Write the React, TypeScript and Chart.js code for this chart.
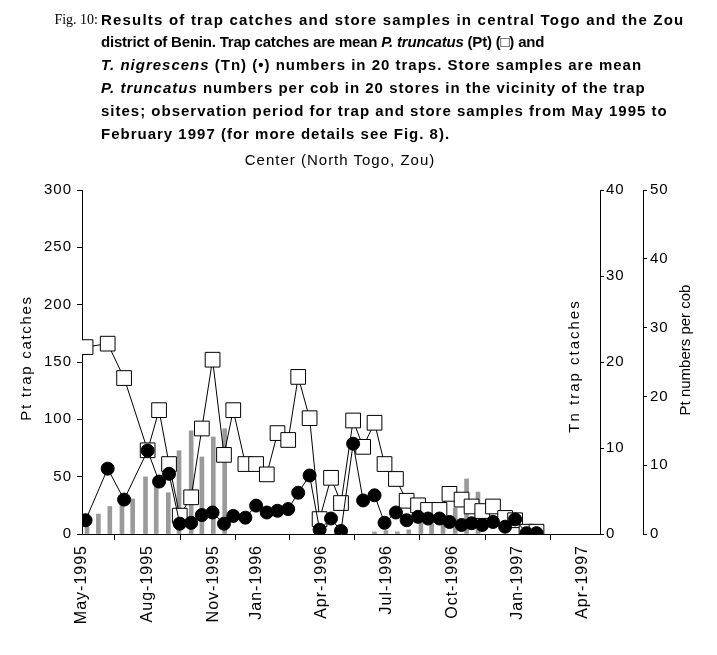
import React, { useEffect, useRef } from 'react';
import { Chart, registerables } from 'chart.js';

Chart.register(...registerables);

// Trap sampling dates (mean of 20 traps)
const trapDates = [
  '1995-05-06', '1995-06-06', '1995-06-29', '1995-08-01', '1995-08-17', '1995-08-31',
  '1995-09-15', '1995-10-01', '1995-10-16', '1995-10-31', '1995-11-16', '1995-11-29',
  '1995-12-16', '1995-12-31', '1996-01-15', '1996-01-30', '1996-02-14', '1996-02-28',
  '1996-03-15', '1996-03-29', '1996-04-14', '1996-04-28', '1996-05-15', '1996-05-29',
  '1996-06-14', '1996-06-28', '1996-07-14', '1996-07-29', '1996-08-14', '1996-08-28',
  '1996-09-13', '1996-09-27', '1996-10-14', '1996-10-28', '1996-11-12', '1996-11-27',
  '1996-12-14', '1996-12-28', '1997-01-13', '1997-01-27',
];

// Pt trap catches (left axis)
const ptTrapCatches = [
  163, 166, 136, 73, 108, 61, 16, 32, 92, 152, 69, 108,
  61, 61, 52, 88, 82, 137, 101, 13, 49, 27, 99, 76,
  97, 61, 48, 29, 25, 21, 21, 35, 30, 24, 20, 24,
  14, 12, 2, 2,
];

// Tn trap catches (first right axis)
const tnTrapCatches = [
  1.6, 7.6, 4.0, 9.7, 6.1, 7.0, 1.2, 1.3, 2.2, 2.5, 1.2, 2.1,
  1.9, 3.3, 2.5, 2.7, 2.9, 4.8, 6.8, 0.5, 1.8, 0.35, 10.5, 3.9,
  4.5, 1.3, 2.5, 1.6, 2.0, 1.8, 1.8, 1.4, 1.05, 1.25, 1.05, 1.4,
  0.85, 1.7, 0.1, 0.1,
];

// Store sampling dates (20 stores)
const storeDates = [
  '1995-05-08', '1995-05-24', '1995-06-09', '1995-06-26', '1995-07-11', '1995-07-29',
  '1995-08-13', '1995-08-30', '1995-09-14', '1995-10-01', '1995-10-16', '1995-11-01',
  '1995-11-17', '1996-06-14', '1996-06-30', '1996-07-16', '1996-08-01', '1996-08-18',
  '1996-09-02', '1996-09-18', '1996-10-05', '1996-10-21', '1996-11-06',
];

// Pt numbers per cob (second right axis)
const ptPerCob = [
  1.06, 2.9, 4.0, 4.4, 5.1, 8.3, 7.0, 6.0, 12.1, 15.0, 11.2, 14.1,
  15.3, 0.3, 0.5, 0.3, 0.6, 1.6, 1.5, 1.5, 3.8, 8.0, 6.1,
];

const xTickDates = [
  '1995-05-01', '1995-08-01', '1995-11-01', '1996-01-01', '1996-04-01',
  '1996-07-01', '1996-10-01', '1997-01-01', '1997-04-01',
];
const xTickLabels = [
  'May-1995', 'Aug-1995', 'Nov-1995', 'Jan-1996', 'Apr-1996',
  'Jul-1996', 'Oct-1996', 'Jan-1997', 'Apr-1997',
];
const xAxisEnd = '1997-04-26';

const ptTicks = [0, 50, 100, 150, 200, 250, 300];
const tnTicks = [0, 10, 20, 30, 40];
const cobTicks = [0, 10, 20, 30, 40, 50];

const ORIGIN = Date.UTC(1995, 4, 1);
const dayOf = (s: string) => {
  const [y, m, d] = s.split('-').map(Number);
  return Math.round((Date.UTC(y, m - 1, d) - ORIGIN) / 86400000);
};

const FONT = '"Liberation Sans", Arial, Helvetica, sans-serif';
const tickFont = { family: FONT, size: 15 };

const spacingPlugin = {
  id: 'letterSpacing',
  beforeLayout(c: any) { c.ctx.letterSpacing = '1px'; },
  beforeDraw(c: any) { c.ctx.letterSpacing = '1px'; },
};

const titlePlugin = {
  id: 'axisTitles',
  afterDraw(c: any) {
    const ctx = c.ctx;
    const area = c.chartArea;
    const mid = (area.top + area.bottom) / 2;
    const titles: [string, number, number, string][] = [
      ['Pt trap catches', 27, mid - 4, '1.7px'],
      ['Tn trap ctaches', area.right - 25, mid + 4, '2px'],
      ['Pt numbers per cob', 686, mid - 12, '0px'],
    ];
    ctx.save();
    ctx.font = `15px ${FONT}`;
    ctx.fillStyle = '#000';
    ctx.textAlign = 'center';
    ctx.textBaseline = 'middle';
    for (const [t, x, y, ls] of titles) {
      ctx.save();
      ctx.letterSpacing = ls;
      ctx.translate(x, y);
      ctx.rotate(-Math.PI / 2);
      ctx.fillText(t, 0, 0);
      ctx.restore();
    }
    ctx.restore();
  },
};

export default function App() {
  const ref = useRef<HTMLCanvasElement | null>(null);

  useEffect(() => {
    if (!ref.current) return;
    const trapDays = trapDates.map(dayOf);
    const storeDays = storeDates.map(dayOf);
    const tickDays = xTickDates.map(dayOf);

    const axisCommon = {
      grid: { drawOnChartArea: false, drawTicks: true, color: '#000', lineWidth: 1 },
      border: { display: true, color: '#000', width: 1 },
    };

    const chart = new Chart(ref.current, {
      type: 'line',
      data: {
        datasets: [
          {
            type: 'line',
            label: 'Tn',
            data: trapDays.map((x, i) => ({ x, y: tnTrapCatches[i] })),
            yAxisID: 'tn',
            borderColor: '#000',
            borderWidth: 1,
            tension: 0,
            fill: false,
            pointStyle: 'circle',
            pointRadius: 6.5,
            pointBackgroundColor: '#000',
            pointBorderColor: '#000',
            pointBorderWidth: 1,
            order: 0,
          },
          {
            type: 'line',
            label: 'Pt',
            data: trapDays.map((x, i) => ({ x, y: ptTrapCatches[i] })),
            yAxisID: 'pt',
            borderColor: '#000',
            borderWidth: 1,
            tension: 0,
            fill: false,
            pointStyle: 'rect',
            pointRadius: 10.4,
            pointBackgroundColor: '#fff',
            pointBorderColor: '#000',
            pointBorderWidth: 1,
            order: 1,
          },
          {
            type: 'bar',
            label: 'Pt per cob',
            data: storeDays.map((x, i) => ({ x, y: ptPerCob[i] })),
            yAxisID: 'cob',
            backgroundColor: '#9a9a9a',
            borderWidth: 0,
            barThickness: 4,
            order: 2,
          },
        ] as any,
      },
      options: {
        animation: false,
        responsive: false,
        maintainAspectRatio: false,
        devicePixelRatio: 1,
        layout: { padding: { top: 190, left: 0, right: 0, bottom: 0 } },
        plugins: { legend: { display: false }, tooltip: { enabled: false }, title: { display: false } },
        scales: {
          x: {
            type: 'linear',
            position: 'bottom',
            min: 0,
            max: dayOf(xAxisEnd),
            offset: false,
            afterBuildTicks: (s: any) => { s.ticks = tickDays.map((v) => ({ value: v })); },
            afterFit: (s: any) => { s.height = 121; },
            ticks: {
              autoSkip: false,
              minRotation: 90,
              maxRotation: 90,
              padding: 5,
              color: '#000',
              font: { family: FONT, size: 16 },
              callback: (_v: any, i: number) => xTickLabels[i],
            },
            grid: { ...axisCommon.grid, tickLength: 6 },
            border: axisCommon.border,
          },
          pt: {
            type: 'linear',
            position: 'left',
            min: 0,
            max: 300,
            afterBuildTicks: (s: any) => { s.ticks = ptTicks.map((v) => ({ value: v })); },
            afterFit: (s: any) => { s.width = 82; },
            ticks: { padding: 5, color: '#000', font: tickFont },
            grid: { ...axisCommon.grid, tickLength: 5 },
            border: axisCommon.border,
          },
          tn: {
            type: 'linear',
            position: 'right',
            min: 0,
            max: 40,
            afterBuildTicks: (s: any) => { s.ticks = tnTicks.map((v) => ({ value: v })); },
            afterFit: (s: any) => { s.width = 43; },
            ticks: { padding: 2, color: '#000', font: tickFont },
            grid: { ...axisCommon.grid, tickLength: 4 },
            border: axisCommon.border,
          },
          cob: {
            type: 'linear',
            position: 'right',
            min: 0,
            max: 50,
            afterBuildTicks: (s: any) => { s.ticks = cobTicks.map((v) => ({ value: v })); },
            afterFit: (s: any) => { s.width = 74; },
            ticks: { padding: 3, color: '#000', font: tickFont },
            grid: { ...axisCommon.grid, tickLength: 4 },
            border: axisCommon.border,
          },
        },
      } as any,
      plugins: [spacingPlugin, titlePlugin],
    });
    return () => chart.destroy();
  }, []);

  const captionStyle: React.CSSProperties = {
    position: 'absolute',
    left: 101,
    top: 8.6,
    fontFamily: FONT,
    fontSize: 15,
    fontWeight: 'bold',
    lineHeight: '22.8px',
    letterSpacing: '1px',
    whiteSpace: 'nowrap',
    color: '#000',
  };

  return (
    <div style={{ position: 'absolute', left: 0, top: 0, width: 717, height: 655, background: '#fff', overflow: 'hidden' }}>
      <canvas ref={ref} width={717} height={655} style={{ position: 'absolute', left: 0, top: 0, width: 717, height: 655 }} />
      <div style={{ position: 'absolute', left: 0, width: 98, textAlign: 'right', top: 8.6, fontFamily: '"Liberation Serif", "Times New Roman", serif', fontSize: 14, lineHeight: '22.8px', color: '#000', whiteSpace: 'nowrap' }}>
        Fig. 10:
      </div>
      <div style={captionStyle}>
        <div style={{ letterSpacing: '1.2px' }}>Results of trap catches and store samples in central Togo and the Zou</div>
        <div style={{ letterSpacing: '-0.2px' }}>district of Benin. Trap catches are mean <i>P. truncatus</i> (Pt) (□) and</div>
        <div><i>T. nigrescens</i> (Tn) (•) numbers in 20 traps. Store samples are mean</div>
        <div><i>P. truncatus</i> numbers per cob in 20 stores in the vicinity of the trap</div>
        <div>sites; observation period for trap and store samples from May 1995 to</div>
        <div>February 1997 (for more details see Fig. 8).</div>
      </div>
      <div style={{ position: 'absolute', left: 0, width: 680, top: 149, textAlign: 'center', fontFamily: FONT, fontSize: 15, lineHeight: '22px', letterSpacing: '1px', color: '#000', whiteSpace: 'nowrap' }}>
        Center (North Togo, Zou)
      </div>
    </div>
  );
}
